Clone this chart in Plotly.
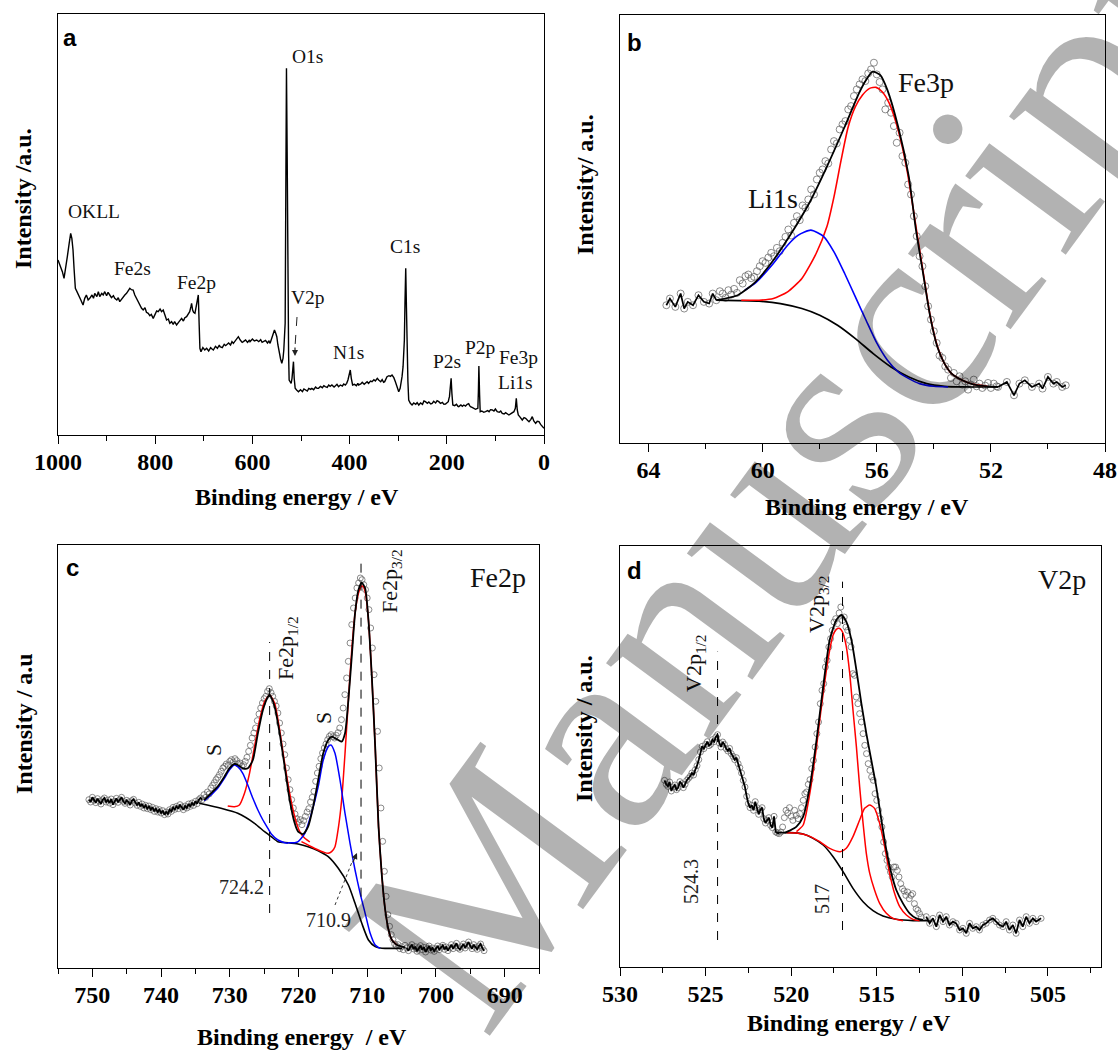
import plotly.graph_objects as go

W, H = 1118, 1051
SERIF = "Liberation Serif"
SANS = "Liberation Sans"


def fx(x):
    """pixel column -> paper x"""
    return x / W


def fy(y):
    """pixel row -> paper y"""
    return 1 - y / H


def split(pairs):
    return [p[0] for p in pairs], [p[1] for p in pairs]


# ---------------- (a) survey spectrum: binding energy (eV), intensity (a.u.) ----------------
survey = [
    (1000, 525), (997, 515), (994.5, 505), (991, 490), (987.6, 470), (984, 500), (980.8, 535),
    (977, 575), (975, 600), (973.9, 605), (971.5, 590), (969.1, 555), (967, 500), (964.3, 440),
    (961, 430), (957.4, 420), (953, 405), (948.5, 390), (945, 410), (941.6, 420), (938, 405),
    (934.7, 410), (930, 420), (927, 410), (924.4, 425), (920, 415), (917, 430), (914.1, 415),
    (910, 425), (907, 420), (903.8, 430), (900, 418), (897, 428), (893.5, 420), (890, 412),
    (886, 418), (883.2, 410), (879, 405), (876, 412), (872.9, 400), (869, 408), (866, 415),
    (862.5, 420), (859, 425), (856, 432), (852.2, 440), (849, 436), (845.4, 435), (842, 420),
    (838, 408), (835.1, 400), (831, 388), (828, 380), (824.7, 375), (821, 382), (818, 368),
    (814.4, 365), (811, 358), (808, 362), (804.1, 350), (801, 358), (797, 372), (793.8, 370),
    (790, 378), (787, 370), (783.5, 375), (780, 360), (776.6, 345), (773, 348), (770, 335),
    (766.3, 340), (763, 332), (760, 340), (756, 330), (752, 338), (749, 345), (745.7, 350),
    (742, 342), (739, 352), (735.4, 355), (732, 362), (729, 370), (726.5, 385), (725.1, 395),
    (723, 375), (721, 368), (718.2, 365), (716, 380), (714, 395), (712, 415), (711.3, 420),
    (709.5, 330), (708, 260), (705.8, 250), (702, 262), (698, 255), (694.2, 260), (690, 252),
    (686, 262), (683, 258), (680.4, 255), (676, 266), (672, 260), (668, 270), (666.7, 265),
    (662, 262), (658, 272), (655, 268), (652.9, 270), (649, 276), (645, 270), (642, 280),
    (639.2, 275), (635, 282), (631, 290), (628.9, 295), (625, 285), (621, 278), (618.6, 280),
    (614, 285), (610, 278), (606, 285), (604.8, 280), (600, 288), (596, 282), (591.1, 285),
    (587, 280), (583, 286), (580, 278), (577.3, 280), (573, 284), (569, 276), (566, 282),
    (563.6, 275), (560, 290), (557, 305), (554.6, 315), (552, 305), (549.8, 295), (547.5, 270),
    (545, 245), (542, 228), (539.5, 215), (537, 230), (535.4, 255), (533.5, 300), (532.6, 335),
    (531, 800), (529.9, 1100), (528.5, 850), (527.1, 455), (525.5, 240), (524.4, 165), (522, 160),
    (520.3, 155), (518.5, 170), (517, 215), (515.5, 220), (514, 170), (512, 140), (509, 135),
    (505.2, 130), (501, 136), (497, 130), (494, 138), (491.4, 135), (487, 132), (484, 140),
    (480, 137), (477.7, 140), (474, 136), (470, 144), (467, 140), (463.9, 140), (460, 146),
    (456, 142), (453, 148), (450.2, 145), (446, 143), (443, 150), (440, 146), (436.4, 150),
    (432, 144), (429, 148), (426, 152), (422.7, 145), (419, 150), (415, 147), (412, 153),
    (408.9, 150), (406, 155), (403.4, 165), (401, 180), (398.6, 195), (396.5, 170), (393.8, 150),
    (390, 152), (386, 148), (383, 155), (381.4, 150), (377, 153), (374, 158), (370, 152),
    (367.7, 155), (364, 160), (361, 155), (357, 162), (353.9, 160), (350, 166), (347, 162),
    (343, 170), (340.2, 165), (336, 160), (333, 166), (330, 158), (327.8, 160), (325, 170),
    (323, 175), (319, 178), (316, 176), (312.7, 180), (309, 172), (305.8, 160), (302, 142),
    (298.9, 130), (296, 140), (294, 155), (292.1, 175), (290, 205), (288.5, 250), (287.3, 285),
    (286, 400), (284.5, 500), (283, 380), (281.8, 255), (280, 160), (278.4, 105), (275, 95),
    (271.5, 90), (268, 96), (264, 92), (261, 97), (257.7, 90), (254, 96), (250, 92), (247, 102),
    (244, 100), (240, 95), (237, 99), (233, 93), (230.2, 95), (227, 101), (223, 96), (220, 103),
    (216.5, 100), (213, 95), (209, 98), (206, 92), (202.7, 93), (199, 96), (197, 100),
    (195.5, 110), (194.5, 115), (193, 140), (191.1, 170), (189.5, 125), (187.6, 90), (184, 88),
    (180, 92), (177, 86), (175.3, 85), (171, 90), (168, 86), (165, 90), (161.5, 87), (158, 92),
    (155, 94), (153, 88), (151.2, 85), (147, 82), (144, 80), (140.9, 77), (138, 79), (136.1, 80),
    (135, 130), (134, 207), (132.5, 120), (131.3, 70), (128, 72), (124, 68), (120.3, 70),
    (116, 73), (113, 70), (110, 76), (106.5, 75), (103, 72), (100, 78), (98, 74), (96.2, 70),
    (92, 68), (89, 72), (85.9, 65), (82, 63), (79, 67), (75, 62), (72.2, 60), (68, 64), (65, 66),
    (61.9, 70), (59, 80), (57, 110), (55, 75), (52.9, 60), (50, 55), (47, 48), (44.7, 45),
    (41, 52), (37.8, 50), (34, 44), (30.9, 40), (27, 47), (24.1, 55), (21, 42), (17.2, 35),
    (14, 41), (10.3, 40), (7, 32), (4, 28), (0, 20),
]

# ---------------- (b) Fe3p / Li1s region ----------------
b_edge_left = [
    (63.375, 413), (63.25, 433), (63.06, 408), (62.875, 448), (62.75, 403), (62.625, 423),
    (62.44, 413), (62.25, 443), (62.06, 423), (61.875, 418), (61.75, 448), (61.625, 428),
]
b_edge_right = [
    (51.75, 168), (51.44, 183), (51.19, 143), (51.0, 178), (50.81, 188), (50.56, 168),
    (50.31, 178), (50.19, 163), (50.0, 198), (49.81, 178), (49.69, 183), (49.5, 168),
    (49.375, 173),
]
b_points = [
    (61.5, 455), (61.4, 448), (61.3, 435), (61.2, 458), (61.1, 445), (61.0, 462), (60.9, 450),
    (60.8, 488), (60.7, 478), (60.6, 500), (60.5, 505), (60.4, 494), (60.3, 498), (60.2, 515),
    (60.1, 530), (60.0, 545), (59.9, 540), (59.8, 556), (59.7, 570), (59.6, 560), (59.5, 585),
    (59.4, 575), (59.3, 600), (59.2, 618), (59.1, 640), (59.0, 622), (58.9, 660), (58.8, 680),
    (58.7, 668), (58.6, 712), (58.5, 705), (58.4, 730), (58.3, 760), (58.2, 745), (58.1, 790),
    (58.0, 810), (57.9, 820), (57.8, 845), (57.7, 838), (57.6, 880), (57.5, 905), (57.4, 898),
    (57.3, 940), (57.2, 955), (57.1, 965), (57.0, 1000), (56.9, 1010), (56.8, 1040),
    (56.7, 1060), (56.6, 1075), (56.5, 1090), (56.4, 1085), (56.3, 1108), (56.2, 1120),
    (56.1, 1140), (56.0, 1105), (55.9, 1082), (55.8, 1060), (55.7, 1000), (55.6, 1020),
    (55.5, 990), (55.4, 950), (55.3, 900), (55.2, 930), (55.1, 860), (55.0, 840), (54.9, 775),
    (54.8, 745), (54.7, 680), (54.6, 620), (54.5, 560), (54.4, 530), (54.3, 470), (54.2, 410),
    (54.1, 370), (54.0, 335), (53.9, 300), (53.8, 262), (53.7, 255), (53.6, 230), (53.5, 220),
    (53.4, 195), (53.3, 210), (53.2, 185), (53.1, 200), (53.0, 175), (52.9, 185), (52.8, 160),
    (52.7, 175), (52.6, 190), (52.5, 170), (52.4, 178), (52.3, 165), (52.2, 172), (52.1, 180),
    (52.0, 165), (51.9, 178), (51.8, 170),
]
b_envelope = [
    (61.625, 428), (60.875, 443), (60.25, 483), (59.625, 548), (59.0, 628), (58.375, 718),
    (57.75, 828), (57.125, 948), (56.625, 1048), (56.375, 1088), (56.15, 1113), (55.875, 1103),
    (55.625, 1058), (55.25, 948), (54.875, 798), (54.625, 638), (54.375, 508), (54.125, 378),
    (53.875, 288), (53.625, 238), (53.375, 208), (53.0, 188), (52.625, 176), (52.125, 170),
    (51.75, 168),
]
b_fe3p = [
    (60.75, 428), (60.125, 428), (59.625, 433), (59.125, 453), (58.625, 493), (58.125, 568),
    (57.75, 648), (57.5, 738), (57.25, 848), (57.0, 948), (56.75, 1008), (56.5, 1043),
    (56.25, 1063), (56.025, 1066), (55.81, 1053), (55.56, 1018), (55.25, 938), (54.94, 818),
    (54.625, 648), (54.375, 513), (54.125, 380), (53.875, 290), (53.625, 238), (53.375, 208),
    (53.0, 188), (52.625, 176), (52.125, 170),
]
b_li1s = [
    (60.625, 458), (60.25, 480), (59.625, 538), (59.125, 593), (58.75, 623), (58.31, 638),
    (57.875, 620), (57.5, 573), (57.125, 508), (56.75, 438), (56.375, 368), (56.0, 300),
    (55.625, 248), (55.25, 213), (54.875, 193), (54.5, 178), (54.0, 170), (53.5, 168),
]
b_background = [
    (61.625, 428), (60.125, 425), (59.375, 418), (58.625, 403), (58.0, 383), (57.375, 353),
    (56.75, 313), (56.125, 268), (55.5, 228), (54.875, 198), (54.25, 178), (53.625, 170),
    (53.0, 168), (51.75, 168),
]

# ---------------- (c) Fe2p region ----------------
c_points = [
    (750.5, 505), (750.25, 498), (750.0, 512), (749.75, 503), (749.5, 496), (749.25, 508),
    (749.0, 500), (748.75, 492), (748.5, 505), (748.25, 510), (748.0, 498), (747.75, 504),
    (747.5, 495), (747.25, 507), (747.0, 490), (746.75, 500), (746.5, 509), (746.25, 497),
    (746.0, 505), (745.75, 512), (745.5, 500), (745.25, 494), (745.0, 503), (744.75, 498),
    (744.5, 489), (744.25, 502), (744.0, 506), (743.75, 495), (743.5, 488), (743.25, 497),
    (743.0, 485), (742.75, 492), (742.5, 480), (742.25, 488), (742.0, 478), (741.75, 486),
    (741.5, 475), (741.25, 482), (741.0, 470), (740.75, 478), (740.5, 468), (740.25, 475),
    (740.0, 465), (739.75, 472), (739.5, 460), (739.25, 468), (739.0, 462), (738.75, 475),
    (738.5, 470), (738.25, 482), (738.0, 476), (737.75, 485), (737.5, 478), (737.25, 490),
    (737.0, 483), (736.75, 475), (736.5, 486), (736.25, 480), (736.0, 492), (735.75, 485),
    (735.5, 495), (735.25, 488), (735.0, 500), (734.75, 493), (734.5, 505), (734.25, 510),
    (734.0, 505), (733.75, 520), (733.5, 512), (733.25, 528), (733.0, 522), (732.75, 540),
    (732.5, 548), (732.25, 556), (732.0, 565), (731.75, 572), (731.5, 580), (731.25, 590),
    (731.0, 600), (730.75, 605), (730.5, 612), (730.25, 608), (730.0, 620), (729.75, 625),
    (729.5, 618), (729.25, 628), (729.0, 622), (728.75, 612), (728.5, 615), (728.25, 605),
    (728.0, 610), (727.75, 620), (727.5, 632), (727.25, 650), (727.0, 668), (726.75, 690),
    (726.5, 705), (726.25, 720), (726.0, 742), (725.75, 762), (725.5, 780), (725.25, 795),
    (725.0, 808), (724.75, 815), (724.5, 830), (724.25, 838), (724.0, 826), (723.75, 815),
    (723.5, 800), (723.25, 786), (723.0, 765), (722.75, 735), (722.5, 705), (722.25, 672),
    (722.0, 640), (721.75, 600), (721.5, 565), (721.25, 535), (721.0, 505), (720.75, 480),
    (720.5, 462), (720.25, 448), (720.0, 438), (719.75, 445), (719.5, 430), (719.25, 442),
    (719.0, 455), (718.75, 468), (718.5, 478), (718.25, 498), (718.0, 512), (717.75, 530),
    (717.5, 560), (717.25, 585), (717.0, 605), (716.75, 628), (716.5, 645), (716.25, 660),
    (716.0, 672), (715.75, 685), (715.5, 695), (715.25, 700), (715.0, 694), (714.75, 690),
    (714.5, 698), (714.25, 706), (714.0, 720), (713.75, 745), (713.5, 780), (713.25, 820),
    (713.0, 870), (712.75, 920), (712.5, 975), (712.25, 1030), (712.0, 1080), (711.75, 1110),
    (711.5, 1140), (711.25, 1155), (711.0, 1170), (710.75, 1165), (710.5, 1150), (710.25, 1135),
    (710.0, 1110), (709.75, 1075), (709.5, 1020), (709.25, 960), (709.0, 880), (708.75, 800),
    (708.5, 710), (708.25, 600), (708.0, 480), (707.75, 380), (707.5, 290), (707.25, 215),
    (707.0, 160), (706.75, 125), (706.5, 100), (706.25, 85), (706.0, 72), (705.75, 66),
    (705.5, 70), (705.25, 58), (705.0, 64), (704.75, 55), (704.5, 68), (704.25, 60),
    (704.0, 52), (703.75, 63), (703.5, 70), (703.25, 57), (703.0, 64), (702.75, 50),
    (702.5, 61), (702.25, 67), (702.0, 55), (701.75, 62), (701.5, 48), (701.25, 58),
    (701.0, 66), (700.75, 54), (700.5, 60), (700.25, 50), (700.0, 58), (699.75, 66),
    (699.5, 55), (699.25, 62), (699.0, 68), (698.75, 56), (698.5, 63), (698.25, 52),
    (698.0, 60), (697.75, 70), (697.5, 58), (697.25, 66), (697.0, 74), (696.75, 60),
    (696.5, 56), (696.25, 64), (696.0, 72), (695.75, 60), (695.5, 68), (695.25, 78),
    (695.0, 66), (694.75, 58), (694.5, 70), (694.25, 62), (694.0, 56), (693.75, 66),
    (693.5, 72), (693.25, 60), (693.0, 52),
]
c_envelope = [
    (733.72, 504), (732.74, 524), (731.77, 544), (730.79, 574), (730.06, 599), (729.33, 612),
    (728.84, 609), (728.11, 599), (727.38, 599), (726.64, 624), (725.91, 704), (725.18, 774),
    (724.45, 814), (724.21, 819), (723.96, 812), (723.47, 784), (722.74, 704), (722.01, 604),
    (721.28, 504), (720.55, 434), (720.06, 409), (719.33, 402), (718.6, 424), (717.86, 484),
    (717.13, 564), (716.4, 644), (715.67, 684), (715.18, 694), (714.69, 689), (714.21, 684),
    (713.72, 679), (713.23, 704), (712.74, 804), (712.25, 934), (711.77, 1064), (711.28, 1134),
    (710.79, 1156), (710.3, 1139), (709.82, 1044), (709.33, 874), (708.84, 664), (708.35, 424),
    (707.86, 274), (707.38, 174), (706.89, 114), (706.4, 84), (705.67, 69), (704.94, 64),
    (704.45, 61),
]
c_fe2p12 = [
    (730.3, 486), (729.33, 484), (728.6, 489), (727.86, 524), (727.13, 584), (726.4, 664),
    (725.67, 744), (724.94, 799), (724.21, 819), (723.47, 794), (722.74, 714), (722.01, 614),
    (721.28, 524), (720.55, 454), (719.82, 409), (719.08, 389), (718.35, 378),
]
c_fe2p32 = [
    (719.57, 379), (718.35, 366), (717.13, 354), (716.4, 348), (715.67, 344), (715.18, 349),
    (714.69, 364), (714.21, 419), (713.72, 504), (713.23, 644), (712.74, 804), (712.25, 954),
    (711.77, 1064), (711.28, 1124), (710.79, 1146), (710.55, 1144), (710.3, 1129),
    (709.82, 1044), (709.33, 874), (708.84, 664), (708.35, 424), (707.86, 274), (707.38, 174),
    (706.89, 114), (706.4, 84), (705.67, 69),
]
c_sat1 = [
    (733.72, 502), (732.74, 519), (731.77, 539), (730.79, 569), (730.06, 594), (729.33, 609),
    (728.84, 604), (728.11, 584), (727.38, 549), (726.64, 509), (725.91, 474), (725.18, 444),
    (724.45, 419), (723.96, 402), (722.99, 384), (722.01, 376), (721.52, 374),
]
c_sat2 = [
    (721.52, 376), (720.55, 376), (720.06, 379), (719.08, 404), (718.11, 464), (717.13, 544),
    (716.4, 624), (715.67, 664), (715.28, 669), (714.69, 644), (713.96, 564), (713.23, 464),
    (712.5, 374), (711.77, 294), (711.03, 224), (710.3, 164), (709.57, 104), (708.84, 69),
    (708.11, 59),
]
c_background = [
    (734.45, 494), (731.28, 479), (728.84, 464), (726.4, 434), (724.94, 409), (723.96, 394),
    (722.99, 379), (721.52, 376), (720.06, 372), (718.6, 364), (717.13, 352), (715.67, 334),
    (714.21, 299), (712.74, 249), (711.77, 194), (710.79, 134), (709.82, 84), (708.84, 64),
    (707.86, 59), (706.4, 59), (704.94, 59),
]

# ---------------- (d) V2p region ----------------
d_edge_left = [
    (527.4, 560), (527.3, 548), (527.2, 542), (527.1, 555), (527.0, 528), (526.9, 540),
    (526.8, 546), (526.7, 532), (526.6, 538), (526.5, 556), (526.4, 550), (526.3, 538),
    (526.2, 548), (526.1, 560), (526.0, 566), (525.9, 572), (525.8, 582), (525.7, 576),
    (525.6, 592), (525.5, 604), (525.4, 622), (525.3, 645), (525.2, 662), (525.1, 655),
    (525.0, 668), (524.9, 676), (524.8, 664), (524.7, 668), (524.6, 682), (524.5, 676),
    (524.4, 690), (524.3, 697), (524.2, 672), (524.1, 660), (524.0, 675), (523.9, 668),
    (523.8, 655), (523.7, 648), (523.6, 656), (523.5, 640), (523.4, 632), (523.3, 622),
    (523.2, 628), (523.1, 610), (523.0, 598), (522.9, 582), (522.8, 560), (522.7, 540),
    (522.6, 512), (522.5, 490), (522.4, 478), (522.3, 485), (522.2, 470), (522.1, 496),
    (522.0, 478), (521.9, 458), (521.8, 472), (521.7, 478), (521.6, 445), (521.5, 432),
    (521.4, 440), (521.3, 448), (521.2, 425), (521.1, 418), (521.0, 452), (520.9, 405),
    (520.8, 402), (520.7, 400),
]
d_edge_right = [
    (512.11, 151), (511.91, 131), (511.72, 146), (511.52, 121), (511.33, 156), (511.13, 136),
    (510.94, 151), (510.75, 126), (510.55, 136), (510.36, 131), (510.16, 111), (509.97, 116),
    (509.77, 101), (509.58, 131), (509.39, 116), (509.19, 121), (509.0, 111), (508.8, 126),
    (508.61, 131), (508.41, 141), (508.22, 146), (508.02, 136), (507.83, 126), (507.63, 121),
    (507.44, 136), (507.25, 111), (507.05, 126), (506.86, 101), (506.66, 141), (506.47, 121),
    (506.27, 151), (506.08, 131), (505.88, 146), (505.69, 136), (505.4, 146),
]
d_points = [
    (520.6, 405), (520.5, 420), (520.4, 448), (520.3, 470), (520.2, 462), (520.1, 478),
    (520.0, 452), (519.9, 440), (519.8, 470), (519.7, 455), (519.6, 445), (519.5, 460),
    (519.4, 478), (519.3, 500), (519.2, 520), (519.1, 525), (519.0, 548), (518.9, 562),
    (518.8, 595), (518.7, 620), (518.6, 660), (518.5, 700), (518.4, 735), (518.3, 790),
    (518.2, 830), (518.1, 850), (518.0, 900), (517.9, 920), (517.8, 960), (517.7, 985),
    (517.6, 1010), (517.5, 1035), (517.4, 1045), (517.3, 1030), (517.2, 1062), (517.1, 1080),
    (517.0, 1040), (516.9, 1050), (516.8, 1020), (516.7, 1010), (516.6, 980), (516.5, 960),
    (516.4, 880), (516.3, 875), (516.2, 810), (516.1, 790), (516.0, 760), (515.9, 735),
    (515.8, 700), (515.7, 665), (515.6, 640), (515.5, 610), (515.4, 590), (515.3, 570),
    (515.2, 560), (515.1, 520), (515.0, 500), (514.9, 470), (514.8, 445), (514.7, 420),
    (514.6, 375), (514.5, 340), (514.4, 320), (514.3, 300), (514.2, 285), (514.1, 270),
    (514.0, 300), (513.9, 300), (513.8, 290), (513.7, 270), (513.6, 250), (513.5, 235),
    (513.4, 228), (513.3, 215), (513.2, 225), (513.1, 205), (513.0, 215), (512.9, 220),
    (512.8, 190), (512.7, 175), (512.6, 170), (512.5, 160), (512.4, 150),
]
d_envelope = [
    (520.4, 402), (520.08, 409), (519.69, 421), (519.30, 451), (518.91, 541), (518.52, 681),
    (518.13, 841), (517.75, 981), (517.36, 1041), (517.07, 1056), (516.78, 1036),
    (516.48, 981), (516.19, 891), (515.9, 791), (515.61, 701), (515.32, 621), (515.03, 541),
    (514.73, 441), (514.44, 351), (514.15, 281), (513.86, 231), (513.47, 191), (513.08, 161),
    (512.69, 146), (512.3, 141),
]
d_v2p32_a = [
    (519.69, 406), (519.30, 426), (518.91, 521), (518.52, 661), (518.33, 741), (518.13, 821),
    (517.94, 891), (517.75, 951), (517.55, 996), (517.36, 1013), (517.2, 1016), (517.07, 1011),
    (516.97, 1001), (516.78, 961), (516.58, 881), (516.39, 771), (516.19, 661), (516.0, 541),
    (515.8, 431), (515.61, 341), (515.41, 281), (515.13, 231), (514.83, 191), (514.44, 161),
    (514.05, 146), (513.47, 139),
]
d_v2p32_b = [
    (520.28, 403), (519.69, 402), (518.91, 392), (518.33, 376), (517.75, 356), (517.13, 346),
    (516.78, 356), (516.39, 391), (516.0, 441), (515.71, 476), (515.41, 486), (515.13, 476),
    (514.83, 431), (514.54, 361), (514.25, 281), (513.96, 221), (513.66, 181), (513.27, 156),
    (512.88, 143), (512.5, 139),
]
d_background = [
    (520.86, 403), (520.08, 403), (519.30, 399), (518.72, 386), (518.13, 366), (517.55, 331),
    (516.97, 286), (516.39, 236), (515.8, 196), (515.22, 169), (514.64, 153), (513.86, 143),
    (512.88, 139), (511.91, 139),
]

# reference lines: (position eV, lower intensity, upper intensity)
c_marks = [(724.2, 165, 978), (710.9, 214, 1227)]
d_marks = [(524.3, 81, 946), (517.0, 111, 1156)]

# ---------------- figure ----------------
fig = go.Figure()

CIRCLE = "#5a5a5a"


def add_points(pairs, ax, size):
    x, y = split(pairs)
    fig.add_trace(go.Scatter(
        x=x, y=y, mode="markers", xaxis=ax[0], yaxis=ax[1],
        marker=dict(symbol="circle-open", size=size, color=CIRCLE, line=dict(width=0.7)),
    ))


def add_line(pairs, ax, color, width, smooth=True):
    x, y = split(pairs)
    fig.add_trace(go.Scatter(
        x=x, y=y, mode="lines", xaxis=ax[0], yaxis=ax[1],
        line=dict(color=color, width=width, shape="spline" if smooth else "linear",
                  smoothing=0.6),
    ))


# (a)
add_line(survey, ("x", "y"), "black", 1.4, smooth=False)

# (b)
AXB = ("x2", "y2")
add_points(b_edge_left + b_points + b_edge_right, AXB, 7)
add_line(b_background, AXB, "black", 1.7)
add_line(b_fe3p, AXB, "#ff0000", 1.6)
add_line(b_li1s, AXB, "#0000ff", 1.6)
add_line(b_edge_left, AXB, "black", 1.7, smooth=False)
add_line(b_envelope, AXB, "black", 1.8)
add_line(b_edge_right, AXB, "black", 1.7, smooth=False)

# (c)
AXC = ("x3", "y3")
add_points(c_points, AXC, 6)
add_line(c_background, AXC, "black", 1.6)
add_line(c_fe2p12, AXC, "#ff0000", 1.5)
add_line(c_fe2p32, AXC, "#ff0000", 1.5)
add_line(c_sat1, AXC, "#0000ff", 1.5)
add_line(c_sat2, AXC, "#0000ff", 1.5)
add_line([p for p in c_points if p[0] > 733.9], AXC, "black", 1.8, smooth=False)
add_line(c_envelope, AXC, "black", 1.8)
add_line([p for p in c_points if p[0] < 704.3], AXC, "black", 1.8, smooth=False)

# (d)
AXD = ("x4", "y4")
add_points(d_edge_left + d_points + d_edge_right, AXD, 6)
add_line(d_background, AXD, "black", 1.6)
add_line(d_v2p32_a, AXD, "#ff0000", 1.5)
add_line(d_v2p32_b, AXD, "#ff0000", 1.5)
add_line(d_edge_left, AXD, "black", 1.8, smooth=False)
add_line(d_envelope, AXD, "black", 1.8)
add_line(d_edge_right, AXD, "black", 1.8, smooth=False)

shapes = []
for be, lo, hi in c_marks:
    shapes.append(dict(type="line", xref="x3", yref="y3", x0=be, x1=be, y0=lo, y1=hi,
                       line=dict(color="black", width=1, dash="dash")))
for be, lo, hi in d_marks:
    shapes.append(dict(type="line", xref="x4", yref="y4", x0=be, x1=be, y0=lo, y1=hi,
                       line=dict(color="black", width=1, dash="dash")))
# leader lines of the small arrows
shapes.append(dict(type="line", xref="paper", yref="paper", x0=fx(297), y0=fy(317),
                   x1=fx(295), y1=fy(347), line=dict(color="#222", width=1, dash="dash")))
shapes.append(dict(type="line", xref="paper", yref="paper", x0=fx(335), y0=fy(905),
                   x1=fx(352), y1=fy(862), line=dict(color="#333", width=1, dash="dot")))

# ---------------- axes ----------------
TICKFONT = dict(family=SERIF, size=24, color="black", weight="bold")


def xaxis(left, right, rng, dtick, minor, anchor):
    return dict(
        domain=[fx(left), fx(right)], range=rng, dtick=dtick, tick0=0, anchor=anchor,
        ticks="outside", ticklen=8, tickwidth=1.3, tickcolor="black",
        minor=dict(dtick=minor, tick0=0, ticks="outside", ticklen=5, tickwidth=1.1,
                   tickcolor="black"),
        showline=True, linecolor="black", linewidth=1.3, mirror=True, automargin=False,
        showgrid=False, zeroline=False, tickfont=TICKFONT, ticklabelstandoff=-3,
    )


def yaxis(top, bottom, rng, anchor):
    return dict(
        domain=[fy(bottom), fy(top)], range=rng, anchor=anchor, automargin=False,
        showticklabels=False, ticks="", showline=True, linecolor="black", linewidth=1.3,
        mirror=True, showgrid=False, zeroline=False,
    )


layout = dict(
    width=W, height=H, margin=dict(l=0, r=0, t=0, b=0, pad=0, autoexpand=False),
    paper_bgcolor="white", plot_bgcolor="rgba(0,0,0,0)", showlegend=False,
    xaxis=xaxis(58, 544, [1000, 0], 200, 100, "y"),
    yaxis=yaxis(14, 435, [0, 1263], "x"),
    xaxis2=xaxis(620, 1105, [65, 48], 4, 2, "y2"),
    yaxis2=yaxis(15, 443, [0, 1283], "x2"),
    xaxis3=xaxis(58, 539, [755, 685], 10, 5, "y3"),
    yaxis3=yaxis(545, 968, [0, 1269], "x3"),
    xaxis4=xaxis(620, 1101, [530, 501.9], 5, 2.5, "y4"),
    yaxis4=yaxis(546, 967, [0, 1263], "x4"),
    shapes=shapes,
)
fig.update_layout(**layout)

# ---------------- text ----------------
annotations = []


def label(text, x, y, size, angle=0, family=SERIF, bold=False, color="#111"):
    annotations.append(dict(
        text=text, x=fx(x), y=fy(y), xref="paper", yref="paper", showarrow=False,
        xanchor="center", yanchor="middle", textangle=angle,
        font=dict(family=family, size=size, color=color, weight="bold" if bold else "normal"),
    ))


# panel letters
for t, x, y in [("a", 70, 37), ("b", 634, 42), ("c", 72, 567), ("d", 634, 570)]:
    label(t, x, y, 24, family=SANS, bold=True, color="black")

# axis titles
for t, x, y in [("Binding energy / eV", 297, 497), ("Binding energy / eV", 867, 507),
                ("Binding energy  / eV", 302, 1037), ("Binding energy / eV", 849, 1023)]:
    label(t, x, y, 24, bold=True, color="black")
for t, x, y in [("Intensity /a.u.", 23, 199), ("Intensity/ a.u.", 585, 185),
                ("Intensity / a.u", 24, 724), ("Intensity / a.u.", 584, 729)]:
    label(t, x, y, 24, angle=-90, bold=True, color="black")

# survey peak labels
for t, x, y in [("O1s", 308, 56), ("OKLL", 94, 211), ("Fe2s", 132, 268), ("Fe2p", 196, 282),
                ("V2p", 308, 298), ("N1s", 348, 352), ("C1s", 405, 247), ("P2s", 447, 361),
                ("P2p", 480, 347), ("Fe3p", 518, 357), ("Li1s", 515, 383)]:
    label(t, x, y, 19.5)

# panel b labels
label("Fe3p", 926, 83, 28)
label("Li1s", 773, 198, 28)

# panel c labels
label("Fe2p", 498, 577, 28)
label("Fe2p<sub>1/2</sub>", 287, 648, 22, angle=-90)
label("Fe2p<sub>3/2</sub>", 391, 581, 22, angle=-90)
label("S", 213, 750, 22, angle=-90)
label("S", 323, 718, 22, angle=-90)
label("724.2", 241, 887, 20, color="#222")
label("710.9", 328, 920, 20, color="#222")

# panel d labels
label("V2p", 1062, 579, 28)
label("V2p<sub>1/2</sub>", 695, 663, 22, angle=-90)
label("V2p<sub>3/2</sub>", 818, 604, 22, angle=-90)
label("524.3", 691, 882, 20, angle=-90, color="#222")
label("517", 822, 899, 20, angle=-90, color="#222")

# arrow heads
annotations.append(dict(x=fx(295), y=fy(356), xref="paper", yref="paper", text="",
                        showarrow=True, arrowhead=2, arrowsize=1, arrowwidth=1.2,
                        arrowcolor="#222", ax=0, ay=-10))
annotations.append(dict(x=fx(357), y=fy(853), xref="paper", yref="paper", text="",
                        showarrow=True, arrowhead=2, arrowsize=1, arrowwidth=1.2,
                        arrowcolor="#222", ax=-5, ay=11))

# diagonal watermark
annotations.append(dict(
    text="Manuscript", x=fx(785), y=fy(477), xref="paper", yref="paper", showarrow=False,
    xanchor="center", yanchor="middle", textangle=-53.6,
    font=dict(family=SERIF, size=278, color="rgba(0,0,0,0.30)"),
))

fig.update_layout(annotations=annotations)

fig.write_html("out.html")
